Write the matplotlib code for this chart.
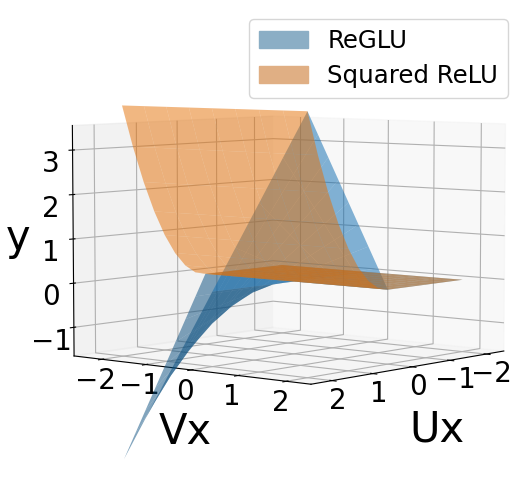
import matplotlib
matplotlib.use("Agg")
import matplotlib.pyplot as plt
from matplotlib.patches import Patch
from matplotlib.colors import to_rgba
import numpy as np

u_values = [-2.0, -1.75, -1.5, -1.25, -1.0, -0.75, -0.5, -0.25, 0.0,
            0.25, 0.5, 0.75, 1.0, 1.25, 1.5, 1.75, 2.0]
v_values = [-2.0, -1.5, -1.0, -0.5, 0.0, 0.5, 1.0, 1.5, 2.0]

# one row per u value, one column per v value
reglu_rows = [
    [0, 0, 0, 0, 0, 0, 0, 0, 0],
    [0, 0, 0, 0, 0, 0, 0, 0, 0],
    [0, 0, 0, 0, 0, 0, 0, 0, 0],
    [0, 0, 0, 0, 0, 0, 0, 0, 0],
    [0, 0, 0, 0, 0, 0, 0, 0, 0],
    [0, 0, 0, 0, 0, 0, 0, 0, 0],
    [0, 0, 0, 0, 0, 0, 0, 0, 0],
    [0, 0, 0, 0, 0, 0, 0, 0, 0],
    [0, 0, 0, 0, 0, 0, 0, 0, 0],
    [-0.5, -0.375, -0.25, -0.125, 0, 0.125, 0.25, 0.375, 0.5],
    [-1.0, -0.75, -0.5, -0.25, 0, 0.25, 0.5, 0.75, 1.0],
    [-1.5, -1.125, -0.75, -0.375, 0, 0.375, 0.75, 1.125, 1.5],
    [-2.0, -1.5, -1.0, -0.5, 0, 0.5, 1.0, 1.5, 2.0],
    [-2.5, -1.875, -1.25, -0.625, 0, 0.625, 1.25, 1.875, 2.5],
    [-3.0, -2.25, -1.5, -0.75, 0, 0.75, 1.5, 2.25, 3.0],
    [-3.5, -2.625, -1.75, -0.875, 0, 0.875, 1.75, 2.625, 3.5],
    [-4.0, -3.0, -2.0, -1.0, 0, 1.0, 2.0, 3.0, 4.0],
]
# squared ReLU height at each u value (same for every v)
squared_relu_by_u = [0, 0, 0, 0, 0, 0, 0, 0, 0,
                     0.0625, 0.25, 0.5625, 1.0, 1.5625, 2.25, 3.0625, 4.0]

series_names = ["ReGLU", "Squared ReLU"]
tick_values = [-2, -1, 0, 1, 2]
z_tick_values = [-1, 0, 1, 2, 3]

U, V = np.meshgrid(u_values, v_values, indexing="ij")
Z_reglu = np.array(reglu_rows, dtype=float)
Z_square = np.tile(np.array(squared_relu_by_u)[:, None], (1, len(v_values)))

# the falling half of the blue surface is shaded darker than the rising half
blue_faces = np.empty(U.shape + (4,))
blue_faces[V < 0] = to_rgba("#054B7D", 0.5)
blue_faces[V >= 0] = to_rgba("#0A69AF", 0.5)

fig = plt.figure(figsize=(5.28, 4.88), dpi=100)
ax = fig.add_axes([-0.032, 0.0085, 1.14, 0.975], projection="3d")
ax.computed_zorder = False
ax.plot_surface(U, V, Z_reglu, facecolors=blue_faces, linewidth=0, zorder=1, shade=False)
ax.plot_surface(U, V, Z_square, color="#E57005", alpha=0.5, linewidth=0, zorder=2, shade=False)

ax.set_xlim(-2.5, 2.5)
ax.set_ylim(-2.65, 2.5)
ax.set_zlim(-1.65, 3.55)
ax.set_xticks(tick_values)
ax.set_yticks(tick_values)
ax.set_zticks(z_tick_values)
ax.view_init(elev=5, azim=40)
ax.tick_params(labelsize=20)
ax.tick_params(axis="x", pad=-4)
ax.tick_params(axis="y", pad=-3)
ax.tick_params(axis="z", pad=1)

fig.text(437 / 528, 1 - 430 / 488, "Ux", fontsize=30, ha="center", va="center")
fig.text(185 / 528, 1 - 432 / 488, "Vx", fontsize=30, ha="center", va="center")
fig.text(18 / 528, 1 - 238 / 488, "y", fontsize=30, ha="center", va="center")

handles = [Patch(facecolor="#8BAEC5", edgecolor="#8BAEC5"),
           Patch(facecolor="#E0AF84", edgecolor="#E0AF84")]
fig.legend(handles, series_names, fontsize=17.6, loc="upper right",
           bbox_to_anchor=(0.962, 0.961), borderaxespad=0, labelspacing=0.45)
fig.savefig("out.png", dpi=100)
